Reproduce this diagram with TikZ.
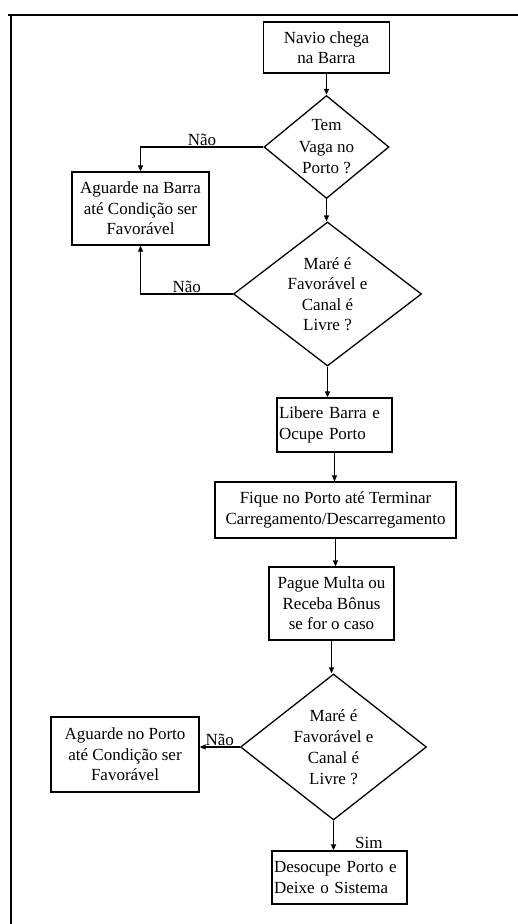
\documentclass[tikz,border=0pt]{standalone}
\usepackage{fontspec}
\setmainfont{Liberation Serif}
\usetikzlibrary{shapes.geometric,arrows.meta,positioning}

\tikzset{
  caixa/.style={draw,line width=1.3pt,inner sep=2pt,align=center,
    font=\fontsize{17}{20.5}\selectfont},
  losango/.style={draw,diamond,line width=1.3pt,inner sep=0pt},
  seta/.style={-{Triangle[length=6pt,width=5pt]},line width=1.3pt},
  rotulo/.style={font=\fontsize{17}{18}\selectfont,inner sep=1pt},
}

\begin{document}
\begin{tikzpicture}[x=1pt,y=-1pt]
\useasboundingbox (0,0) rectangle (518,924);

% moldura
\draw[line width=1.3pt] (8,15) -- (518,15);
\draw[line width=1.3pt] (11,15) -- (11,924);

\node[caixa,minimum width=126pt,minimum height=51pt] (navio) at (326.5,47.5)
  {Navio chega\\na Barra};

\node[losango,minimum width=125pt,minimum height=103pt,
  label={[align=center,font=\fontsize{17}{21.5}\selectfont]center:Tem\\Vaga no\\Porto ?}]
  (vaga) at (326.5,147) {};

\node[caixa,minimum width=137pt,minimum height=73pt] (esperaBarra) at (140.5,208.5)
  {Aguarde na Barra\\até Condição ser\\Favorável};

\node[losango,minimum width=188pt,minimum height=144pt,
  label={[align=center,font=\fontsize{17}{20.5}\selectfont]center:Maré é\\Favorável e\\Canal é\\Livre ?}]
  (mare1) at (327.5,294) {};

\node[caixa,align=left,text width=111pt,minimum height=54pt] (libere) at (334.5,425)
  {Libere Barra e\\Ocupe Porto};

\node[caixa,minimum width=241pt,minimum height=56pt] (fique) at (335.5,510)
  {Fique no Porto até Terminar\\Carregamento/Descarregamento};

\node[caixa,minimum width=125pt,minimum height=73pt] (multa) at (331.5,603.5)
  {Pague Multa ou\\Receba Bônus\\se for o caso};

\node[losango,minimum width=186pt,minimum height=146pt,
  label={[align=center,font=\fontsize{17}{21}\selectfont]center:Maré é\\Favorável e\\Canal é\\Livre ?}]
  (mare2) at (333.5,747) {};

\node[caixa,minimum width=148pt,minimum height=75pt] (esperaPorto) at (125,754.5)
  {Aguarde no Porto\\até Condição ser\\Favorável};

\node[caixa,align=left,text width=131pt,minimum height=53pt] (desocupe) at (339.5,877.5)
  {Desocupe Porto e\\Deixe o Sistema};

% ligacoes
\draw[seta] (navio) -- (vaga);
\draw[seta] (vaga.west) -| node[rotulo,pos=0.25,above]{Não} (esperaBarra.north);
\draw[seta] (vaga.south) -- (vaga.south |- mare1.north);
\draw[seta] (mare1.west) -| node[rotulo,pos=0.25,above]{Não} (esperaBarra.south);
\draw[seta] (mare1.south) -- (mare1.south |- libere.north);
\draw[seta] (libere.south) -- (libere.south |- fique.north);
\draw[seta] (fique.south) -- (fique.south |- multa.north);
\draw[seta] (multa.south) -- (multa.south |- mare2.north);
\draw[seta] (mare2.west) -- node[rotulo,above]{Não} (mare2.west -| esperaPorto.east);
\draw[seta] (mare2.south) -- node[rotulo,pos=0.75,right=20pt]{Sim}
  (mare2.south |- desocupe.north);
\end{tikzpicture}
\end{document}
